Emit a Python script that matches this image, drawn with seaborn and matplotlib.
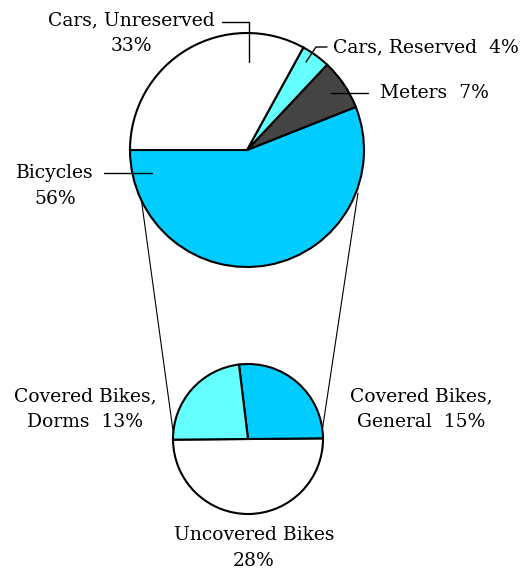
import matplotlib
matplotlib.use("Agg")
import matplotlib.pyplot as plt
import seaborn as sns

# main pie
main_labels = ["Bicycles", "Meters", "Cars, Reserved", "Cars, Unreserved"]
main_values = [56, 7, 4, 33]
main_colors = ["#00ccff", "#444444", "#66ffff", "#ffffff"]

# bicycles breakdown
bike_labels = ["Uncovered Bikes", "Covered Bikes, General", "Covered Bikes, Dorms"]
bike_values = [28, 15, 13]
bike_colors = ["#ffffff", "#00ccff", "#66ffff"]

sns.set_theme(style="white")
plt.rcParams["font.family"] = ["DejaVu Serif"]
plt.rcParams["text.color"] = "black"

fig = plt.figure(figsize=(5.26, 5.69), dpi=100)
ax = fig.add_axes([0, 0, 1, 1])

big_c, big_r = (247, 419), 117
small_c, small_r = (248, 130), 75

# connector lines (drawn first, pies on top)
ax.plot([140, 174], [379, 131], color="black", lw=0.8, zorder=1)
ax.plot([358, 322], [376, 137], color="black", lw=0.8, zorder=1)

wp = dict(edgecolor="black", linewidth=1.5)
ax.pie(main_values, colors=main_colors, startangle=180, counterclock=True,
       center=big_c, radius=big_r, wedgeprops=wp, frame=True)
ax.pie(bike_values, colors=bike_colors, startangle=180.5, counterclock=True,
       center=small_c, radius=small_r, wedgeprops=wp, frame=True)
ax.set_xlim(0, 526)
ax.set_ylim(0, 569)
ax.set_aspect("equal")
ax.axis("off")

fs = 13.5
ls = 1.55
lk = dict(color="black", lw=1.0, zorder=5)

# leader lines
ax.plot([222, 249, 249], [547, 547, 507], **lk)
ax.plot([306, 316, 327], [507, 522, 522], **lk)
ax.plot([331, 368], [476, 476], **lk)
ax.plot([104, 152], [396, 396], **lk)

def y(p):
    return 569 - p

ax.text(131, y(33), "Cars, Unreserved\n33%", ha="center", va="center", fontsize=fs, linespacing=ls)
ax.text(333, y(47), "Cars, Reserved  4%", ha="left", va="center", fontsize=fs)
ax.text(380, y(93), "Meters  7%", ha="left", va="center", fontsize=fs)
ax.text(55, y(186), "Bicycles\n56%", ha="center", va="center", fontsize=fs, linespacing=ls)
ax.text(85, y(409), "Covered Bikes,\nDorms  13%", ha="center", va="center", fontsize=fs, linespacing=ls)
ax.text(421, y(409), "Covered Bikes,\nGeneral  15%", ha="center", va="center", fontsize=fs, linespacing=ls)
ax.text(254, y(548), "Uncovered Bikes\n28%", ha="center", va="center", fontsize=fs, linespacing=ls)

fig.savefig("out.png", dpi=100, facecolor="white")
